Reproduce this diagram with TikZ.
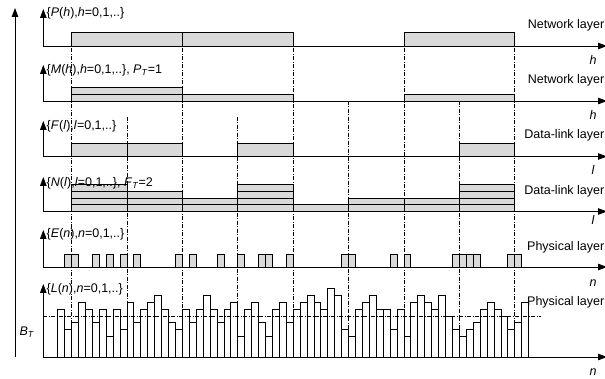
\documentclass[tikz,border=0pt]{standalone}
\usepackage{fontspec}
\setmainfont{Liberation Sans}
\usetikzlibrary{arrows.meta}
\begin{document}
\begin{tikzpicture}[x=1pt, y=-1pt,
  every node/.style={font=\fontsize{12.5}{14}\selectfont, inner sep=0pt},
  axis/.style={line width=0.75pt, -{Triangle[length=9pt,width=6.5pt]}},
  slot/.style={draw, line width=0.7pt, fill=gray!30},
  sample/.style={draw, line width=0.7pt},
  guide/.style={line width=0.45pt, dash pattern=on 4pt off 1.5pt on 1pt off 1.5pt},
  label/.style={anchor=west},
  layer/.style={anchor=east},
  var/.style={font=\fontsize{12.5}{14}\selectfont\itshape}
]
\useasboundingbox (0,0) rectangle (605,379);

% h slots and l slots
\foreach \h in {0,1,3}
  \draw[slot] ({71.5+110.8*\h},32.3) rectangle ({182.3+110.8*\h},46);
\draw[slot] (71.5,87.5) rectangle (182.3,94.3);
\foreach \h in {0,1,3}
  \draw[slot] ({71.5+110.8*\h},94.3) rectangle ({182.3+110.8*\h},101);
\foreach \l in {0,1,3,7}
  \draw[slot] ({71.5+55.4*\l},143) rectangle ({126.9+55.4*\l},156.5);
\foreach \l/\c in {0/4,1/3,2/2,3/4,4/1,5/2,6/2,7/4}
  \foreach \r in {1,...,\c}
    \draw[slot] ({71.5+55.4*\l},{211.5-6.75*(\r-1)}) rectangle ({126.9+55.4*\l},{211.5-6.75*\r});

% samples
\foreach \k in {1,2,5,7,9,11,17,19,23,26,29,30,33,41,42,48,50,57,58,59,60,65,66}
  \draw[slot] ({57.65+6.925*\k},267) rectangle ({64.575+6.925*\k},254);
\foreach \v [count=\k from 0] in {7,4,5,8,7,5,7,3,7,4,8,5,7,8,9,7,5,4,7,5,7,9,7,5,7,8,3,7,8,5,3,7,8,5,
    7,8,9,8,7,10,9,4,3,7,8,9,7,7,4,7,3,8,9,8,7,9,6,4,3,4,5,7,8,7,6,4,5,8}
  \draw[sample] ({57.65+6.925*\k},357) rectangle ({64.575+6.925*\k},{357-6.85*\v});

% guides
\foreach \j in {0,2,4,6,8}
  \draw[guide] ({71.5+55.4*\j},32.3) -- ({71.5+55.4*\j},357);
\foreach \j in {1,3}
  \draw[guide] ({71.5+55.4*\j},117) -- ({71.5+55.4*\j},357);
\foreach \j in {5,7}
  \draw[guide] ({71.5+55.4*\j},101) -- ({71.5+55.4*\j},357);
\draw[guide] (43.3,316.5) -- (541,316.5);

% axes
\draw[axis] (15,357) -- (15,8);
\foreach \y/\t in {46/9,101/65,156.5/121,211.5/177,267/230,357/284} {
  \draw[axis] (43.3,\y) -- (43.3,\t);
  \draw[axis] (43.3,\y) -- (607,\y);
}

% labels
\node[label] (lblP) at (46.5,13) {\{\textit{P}(\textit{h}),\textit{h}=0,1,..\}};
\node[label] (lblM) at (46.5,70) {\{\textit{M}(\textit{h}),\textit{h}=0,1,..\}, \textit{P}\textsubscript{\textit{T}}=1};
\node[label] (lblF) at (46.5,126) {\{\textit{F}(\textit{l}),\textit{l}=0,1,..\}};
\node[label] (lblN) at (46.5,183) {\{\textit{N}(\textit{l}),\textit{l}=0,1,..\}, \textit{F}\textsubscript{\textit{T}}=2};
\node[label] (lblE) at (46.5,234) {\{\textit{E}(\textit{n}),\textit{n}=0,1,..\}};
\node[label] (lblL) at (46.5,289) {\{\textit{L}(\textit{n}),\textit{n}=0,1,..\}};
\node (lblB) at (27,332) {\textit{B}\textsubscript{\textit{T}}};

\node[layer] (netA) at (604.5,25) {Network layer};
\node[layer] (netB) at (604.5,80) {Network layer};
\node[layer] (linkA) at (604.5,135.5) {Data-link layer};
\node[layer] (linkB) at (604.5,191) {Data-link layer};
\node[layer] (phyA) at (604.5,247) {Physical layer};
\node[layer] (phyB) at (604.5,302) {Physical layer};

\node[var] (varH1) at (593,60) {h};
\node[var] (varH2) at (593,115) {h};
\node[var] (varL1) at (593,170) {l};
\node[var] (varL2) at (593,220) {l};
\node[var] (varN1) at (593,283) {n};
\node[var] (varN2) at (593,372) {n};
\end{tikzpicture}
\end{document}
